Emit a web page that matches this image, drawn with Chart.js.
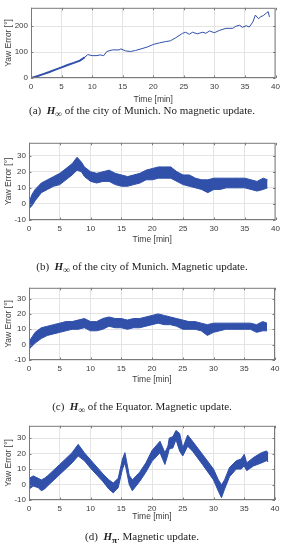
<!DOCTYPE html>
<html>
<head>
<meta charset="utf-8">
<script src="https://cdn.jsdelivr.net/npm/chart.js@4.4.1/dist/chart.umd.min.js"></script>
<style>
  body { margin: 0; width: 284px; height: 550px; background: #fff; position: relative; overflow: hidden; }
  canvas { position: absolute; left: 0; }
  .cap { position: absolute; left: 0; width: 284px; text-align: center; font-family: "Liberation Serif", "Times New Roman", serif; font-size: 11px; color: #222; line-height: 12px; white-space: nowrap; }
</style>
</head>
<body>
<canvas id="c1" width="284" height="105" style="top:0px"></canvas>
<div class="cap" style="top:104px">(a)&nbsp; <b><i>H</i><sub>∞</sub></b> of the city of Munich. No magnetic update.</div>
<canvas id="c2" width="284" height="110" style="top:135px"></canvas>
<div class="cap" style="top:260px">(b)&nbsp; <b><i>H</i><sub>∞</sub></b> of the city of Munich. Magnetic update.</div>
<canvas id="c3" width="284" height="105" style="top:280px"></canvas>
<div class="cap" style="top:400px">(c)&nbsp; <b><i>H</i><sub>∞</sub></b> of the Equator. Magnetic update.</div>
<canvas id="c4" width="284" height="104" style="top:418px"></canvas>
<div class="cap" style="top:530px">(d)&nbsp; <b><i>H</i><sub>π</sub></b>. Magnetic update.</div>
<script>
// (a) no magnetic update - single line
const timeA = [0, 1, 2, 3, 4, 5, 6, 7, 8, 8.8, 9.3, 10, 10.8, 11.3, 11.9, 12.4, 13.3, 14.4, 14.7, 15.5, 16.3, 17.1, 18, 19, 20, 21, 22, 22.8, 23.7, 24.8, 25.3, 25.9, 26.4, 27.2, 28.1, 28.6, 29.2, 30, 30.8, 31.9, 33, 33.5, 34.1, 34.6, 35.2, 35.7, 36.3, 36.7, 37.2, 37.6, 38, 38.5, 38.8, 39];
const yawA  = [0, 7, 15, 23, 32, 41, 50, 58, 67, 80, 90, 86, 86, 89, 86, 102, 108, 108, 112, 104, 102, 106, 112, 119, 129, 135, 140, 143, 155, 172, 176, 168, 176, 170, 176, 172, 181, 174, 183, 191, 191, 199, 203, 195, 201, 196, 216, 242, 228, 236, 240, 250, 255, 235];

// (b) Munich, magnetic update - noise band
const timeB = [0, 0.5, 1, 2, 3, 4, 5, 6, 7, 7.8, 8.5, 9, 10, 11, 12, 13, 14, 15, 16, 17, 18, 19, 20, 21, 22, 23, 24, 25, 26, 27, 28, 29, 30, 31, 32, 33, 34, 35, 36, 37, 38, 38.7];
const highB = [1, 6, 9, 13, 15, 17, 19, 22, 25, 29, 26, 23, 20, 19, 20, 21, 19, 18, 17, 18, 19, 21, 22, 23, 23, 23, 20, 18, 18, 16, 15, 15, 16, 16, 16, 16, 16, 16, 15, 14, 16, 15];
const lowB  = [-3, -1, 2, 7, 9, 11, 12, 15, 18, 21, 20, 17, 14, 13, 14, 14, 12, 11, 11, 12, 13, 15, 15, 16, 16, 16, 14, 12, 11, 10, 9, 7, 9, 9, 10, 10, 10, 10, 9, 8, 9, 10];

// (c) Equator, magnetic update
const timeC = [0, 0.5, 1, 2, 3, 4, 5, 6, 7, 8, 9, 10, 11, 12, 13, 14, 15, 16, 17, 18, 19, 20, 21, 22, 23, 24, 25, 26, 27, 28, 29, 30, 31, 32, 33, 34, 35, 36, 37, 38, 38.7];
const highC = [2, 5, 8, 11, 12, 13, 14, 15, 15, 16, 17, 15, 15, 17, 18, 17, 17, 16, 17, 17, 18, 19, 20, 19, 18, 17, 16, 15, 15, 14, 13, 14, 14, 14, 14, 14, 14, 14, 13, 15, 14];
const lowC  = [-3, -1, 1, 4, 6, 7, 8, 9, 10, 10, 11, 9, 9, 10, 12, 11, 11, 10, 11, 11, 12, 13, 14, 13, 13, 12, 10, 10, 10, 9, 6, 8, 9, 10, 10, 10, 10, 10, 8, 9, 9];

// (d) H_pi, magnetic update
const timeD = [0, 0.7, 1.5, 2, 2.5, 3, 5, 7, 8, 9, 10, 12, 13, 13.7, 14.5, 15.2, 15.6, 16.3, 16.8, 18, 19, 20, 21.3, 22.1, 22.6, 22.8, 23.4, 23.9, 24.5, 25, 25.8, 26.6, 28.2, 30, 30.8, 31.3, 31.8, 32.6, 33.7, 34.5, 35, 35.4, 36.5, 37.8, 38.6, 38.9];
const highD = [4, 5.6, 4, 3, 4, 5.6, 13, 20.6, 26, 20.6, 16, 7, 3, 1, 4, 16.5, 20.6, 6, 3, 8, 14, 22, 28, 20.6, 25, 30, 31, 35, 33, 23.7, 32, 28, 19.6, 10, 3, -0.2, 3, 11, 15.4, 16.5, 19.6, 14, 17.5, 20.6, 21.7, 20.6];
const lowD  = [-3, -1, -2, -4, -3, -1, 6.5, 14, 18.5, 15.4, 10.6, 2, -3, -5.4, -2, 10, 14, 0, -4, 2, 8, 15, 20.6, 13, 19.6, 23, 23.7, 29, 21.6, 18.5, 24.8, 21.6, 13, 3, -4.4, -8.5, -3, 5, 10, 10, 12, 9, 12, 14, 15.4, 14.8];

const xTicks = [0, 5, 10, 15, 20, 25, 30, 35, 40];
const yTicksA = [0, 100, 200];
const yTicksBand = [-10, 0, 10, 20, 30];

const BLUE = '#3050aa';
const tickFont = { family: '"Liberation Sans", Arial, sans-serif', size: 8 };
const titleFont = { family: '"Liberation Sans", Arial, sans-serif', size: 8.5 };

// matlab style box + small inward tick marks
const boxPlugin = {
  id: 'box',
  afterDraw(chart) {
    const a = chart.chartArea, ctx = chart.ctx;
    ctx.save();
    ctx.strokeStyle = '#7a7a7a';
    ctx.lineWidth = 1;
    ctx.strokeRect(a.left + 0.5, a.top + 0.5, a.right - a.left - 1, a.bottom - a.top - 1);
    const xs = chart.scales.x, ys = chart.scales.y;
    ctx.beginPath();
    xs.ticks.forEach(t => {
      const px = Math.round(xs.getPixelForValue(t.value)) + 0.5;
      ctx.moveTo(px, a.bottom); ctx.lineTo(px, a.bottom - 2.5);
      ctx.moveTo(px, a.top); ctx.lineTo(px, a.top + 2.5);
    });
    ys.ticks.forEach(t => {
      const py = Math.round(ys.getPixelForValue(t.value)) + 0.5;
      ctx.moveTo(a.left, py); ctx.lineTo(a.left + 2.5, py);
      ctx.moveTo(a.right, py); ctx.lineTo(a.right - 2.5, py);
    });
    ctx.stroke();
    ctx.restore();
  }
};

function pts(xs, ys) { return xs.map((x, i) => ({ x: x, y: ys[i] })); }

function makeChart(id, datasets, o) {
  return new Chart(document.getElementById(id), {
    type: 'line',
    data: { datasets: datasets },
    plugins: [boxPlugin],
    options: {
      responsive: false,
      devicePixelRatio: 1,
      animation: false,
      events: [],
      layout: { padding: { top: o.padTop, right: o.padRight, left: 0, bottom: 0 } },
      plugins: { legend: { display: false }, tooltip: { enabled: false } },
      elements: { point: { radius: 0 }, line: { tension: 0 } },
      scales: {
        x: {
          type: 'linear', min: 0, max: 40,
          afterBuildTicks: s => { s.ticks = xTicks.map(v => ({ value: v })); },
          afterFit: s => { s.height = o.xHeight; },
          grid: { color: '#e4e4e4', drawTicks: false },
          border: { display: false },
          ticks: { font: tickFont, color: '#3a3a3a', padding: 4, maxRotation: 0 },
          title: { display: true, text: 'Time [min]', font: titleFont, color: '#3a3a3a', padding: 0 }
        },
        y: {
          type: 'linear', min: o.yMin, max: o.yMax,
          afterBuildTicks: s => { s.ticks = o.yTicks.map(v => ({ value: v })); },
          afterFit: s => { s.width = o.plotLeft; },
          grid: { color: '#e4e4e4', drawTicks: false },
          border: { display: false },
          ticks: { font: tickFont, color: '#3a3a3a', padding: 3 },
          title: { display: true, text: 'Yaw Error [°]', font: titleFont, color: '#3a3a3a', padding: { top: 4, bottom: 0 } }
        }
      }
    }
  });
}

function band(xs, lo, hi) {
  return [
    { data: pts(xs, lo), borderColor: BLUE, borderWidth: 1, fill: false },
    { data: pts(xs, hi), borderColor: BLUE, borderWidth: 1, backgroundColor: BLUE, fill: '-1' }
  ];
}

makeChart('c1', [{
  data: pts(timeA, yawA), borderColor: BLUE, borderWidth: 1, fill: false,
  segment: { borderWidth: c => (c.p0.parsed.x < 8.5 ? 2 : 1) }
}], { padTop: 5, padRight: 7, plotLeft: 31, xHeight: 27, yMin: 0, yMax: 270, yTicks: yTicksA });

makeChart('c2', band(timeB, lowB, highB),
  { padTop: 6, padRight: 8, plotLeft: 29, xHeight: 25, yMin: -10, yMax: 38, yTicks: yTicksBand });

makeChart('c3', band(timeC, lowC, highC),
  { padTop: 5, padRight: 9, plotLeft: 29, xHeight: 25, yMin: -10, yMax: 37, yTicks: yTicksBand });

makeChart('c4', band(timeD, lowD, highD),
  { padTop: 5, padRight: 9, plotLeft: 29, xHeight: 22, yMin: -10, yMax: 38, yTicks: yTicksBand });
</script>
</body>
</html>
